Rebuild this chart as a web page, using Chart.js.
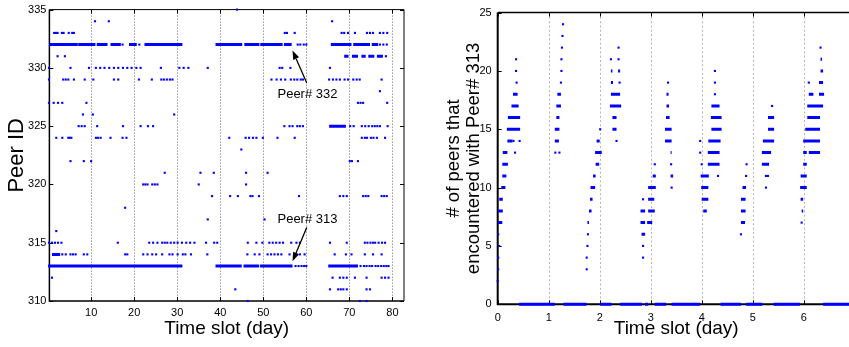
<!DOCTYPE html>
<html>
<head>
<meta charset="utf-8">
<script src="https://cdn.jsdelivr.net/npm/chart.js@4/dist/chart.umd.min.js"></script>
<style>
    html, body { margin: 0; padding: 0; background: #fff; overflow: hidden; }
    #wrap { position: relative; width: 849px; height: 347px; overflow: hidden; }
    #peerChart { position: absolute; left: 0; top: 0; }
    #encChart { position: absolute; left: 420px; top: 0; }
</style>
</head>
<body>
<div id="wrap">
    <canvas id="peerChart" width="420" height="347" style="width:420px;height:347px"></canvas>
    <canvas id="encChart" width="450" height="347" style="width:450px;height:347px"></canvas>
</div>
<script>
// LEFT: peer id seen in each time slot (day)
const peerIds = [335, 334, 333, 332, 331, 330, 329, 328, 327, 326, 325, 324, 323, 322, 321, 320, 319, 318, 317, 316, 315, 314, 313, 312, 311, 310]
const peerSlots = [
    [43.9],
    [10.9, 14.1, 66.0],
    [1.4, 1.8, 2.2, 3.2, 3.6, 4.8, 5.6, 6.0, 55.0, 55.5, 57.3, 68.2, 68.8, 69.7, 71.3, 74.1, 74.8, 75.5, 77.1, 77.9, 78.8],
    [17.3, 21.2, 58.0, 58.6, 59.4, 60.0, 77.1, 77.9, 78.7],
    [2.2, 3.9, 78.5],
    [0.2, 5.2, 9.5, 11.1, 12.1, 13.1, 14.2, 15.3, 16.3, 17.4, 18.4, 19.4, 20.5, 21.5, 26.2, 30.5, 31.5, 32.6, 37.1, 53.8, 54.4, 56.3, 65.5],
    [0.2, 3.5, 4.1, 4.7, 6.0, 8.5, 10.5, 15.3, 16.3, 21.1, 24.1, 26.3, 26.9, 27.6, 28.3, 28.9, 51.9, 53.1, 54.1, 55.1, 56.4, 57.2, 57.9, 58.7, 59.2, 65.3, 66.2, 67.0, 67.8, 68.9, 69.7, 70.9, 71.7, 72.4, 77.5],
    [77.1],
    [0.2, 1.3, 2.3, 3.3, 8.9, 72.0, 72.6, 73.2, 78.8],
    [8.1, 10.4, 29.3],
    [7.1, 7.8, 8.5, 11.4, 17.4, 21.5, 23.2, 24.4, 54.9, 56.1, 56.8, 57.9, 58.5, 59.2, 70.2, 71.0, 72.9, 73.7, 74.5, 75.3, 75.9, 76.5, 77.1, 78.9],
    [1.9, 3.3, 4.7, 5.0, 5.4, 11.1, 11.6, 12.2, 14.5, 17.3, 18.2, 42.1, 45.9, 46.7, 47.6, 48.4, 49.9, 53.3, 57.3, 72.9, 73.6, 74.1, 75.0, 75.6, 76.4, 78.3],
    [44.9],
    [5.2, 8.3, 10.0, 70.1, 70.6, 72.0],
    [27.1, 35.4, 38.5, 46.0, 51.0],
    [22.1, 22.6, 23.1, 24.2, 24.8, 25.4, 35.0, 46.0],
    [38.1, 42.3, 44.1, 47.0, 47.5, 49.0, 58.3, 67.8, 68.6, 69.4, 73.2, 73.8, 74.4, 77.5, 78.1, 78.7],
    [17.9],
    [37.1, 50.3],
    [1.9],
    [0.2, 0.9, 1.6, 2.3, 3.1, 16.2, 23.5, 24.4, 25.4, 26.5, 27.1, 27.7, 28.5, 29.3, 30.1, 31.1, 32.1, 33.0, 34.0, 36.7, 38.6, 39.3, 46.4, 48.4, 49.8, 51.4, 52.2, 53.0, 53.8, 54.6, 56.5, 57.7, 58.5, 65.5, 69.4, 73.6, 74.2, 74.9, 75.5, 76.0, 76.8, 77.6, 78.3],
    [3.3, 4.1, 5.2, 5.8, 6.4, 8.3, 9.1, 17.9, 18.4, 22.1, 23.1, 24.2, 25.1, 26.5, 28.2, 28.9, 30.1, 31.3, 31.9, 33.2, 37.0, 46.3, 48.0, 49.1, 51.0, 51.8, 52.6, 53.4, 54.2, 56.1, 57.7, 58.5, 59.6, 66.6, 69.2, 70.5, 73.6, 75.5, 77.5],
    [57.5, 58.2, 58.9, 59.5, 60.0, 72.6, 73.4, 74.0, 74.7, 75.3, 76.1, 76.7, 77.4, 78.0, 78.6, 79.1],
    [0.9, 66.1, 67.8, 68.6, 69.4, 71.3, 74.0, 77.5, 78.3, 79.1],
    [43.5, 65.5, 67.4, 68.0, 68.6, 69.4, 74.0, 74.8],
    [46.4, 72.5, 74.0]
]
// stretches of back to back slots: [peer id, from day, to day]
const peerRuns = [
    [332, 0.2, 6.9], [332, 7.0, 11.0], [332, 11.3, 13.8], [332, 14.5, 16.9], [332, 18.8, 20.6], [332, 22.4, 31.2],
    [332, 38.9, 45.1], [332, 45.6, 49.1], [332, 49.3, 54.5], [332, 54.8, 56.6],
    [332, 65.7, 70.5], [332, 70.9, 74.8], [332, 75.2, 76.7],
    [331, 68.8, 69.8], [331, 70.6, 72.0], [331, 72.8, 73.8], [331, 74.4, 75.8], [331, 76.4, 77.8],
    [325, 65.3, 69.2],
    [314, 0.9, 2.8],
    [313, 0.0, 31.2], [313, 38.9, 45.0], [313, 45.4, 49.0], [313, 49.2, 56.8], [313, 65.1, 72.0]
]
const peerXTicks = [10, 20, 30, 40, 50, 60, 70, 80]
const peerYTicks = [310, 315, 320, 325, 330, 335]

// RIGHT: number of peers met together with peer 313
// single samples: [day, count]
const encounterDots = [
    [0.00, 2], [0.01, 3], [0.01, 4], [0.03, 5], [0.01, 6], [0.34, 13], [0.31, 14], [0.43, 14], [0.37, 19], [0.36, 20], [0.36, 21],
    [1.13, 13], [1.21, 13], [1.24, 19], [1.25, 20], [1.25, 21], [1.26, 22], [1.27, 23], [1.28, 24],
    [1.745, 3], [1.745, 4], [1.76, 5], [1.77, 6], [2.01, 15],
    [2.33, 14], [2.39, 19], [2.22, 21], [2.37, 21], [2.37, 22],
    [2.85, 4], [2.85, 5], [2.85, 9], [3.41, 10], [3.08, 12], [3.40, 12], [3.34, 19],
    [4.32, 11], [4.00, 12], [3.97, 13], [3.97, 14], [4.26, 18], [4.26, 19], [4.26, 20],
    [4.77, 6], [4.87, 11], [4.88, 12], [5.26, 10], [5.26, 11], [5.30, 11], [5.38, 17],
    [5.96, 7], [6.10, 19], [6.33, 22]
]
// runs of samples at same count: [count, from day, to day]
const encounterRuns = [
    [0, 0.42, 1.12], [0, 1.29, 1.74], [0, 2.01, 2.23], [0, 2.40, 2.83], [0, 2.89, 2.95], [0, 3.08, 3.30],
    [0, 3.41, 3.97], [0, 4.37, 4.77], [0, 4.87, 5.19], [0, 5.41, 5.93], [0, 6.38, 7.0],
    [7, 0.01, 0.09], [8, 0.01, 0.10], [9, 0.03, 0.10], [10, 0.07, 0.15], [11, 0.09, 0.17], [12, 0.09, 0.20],
    [13, 0.10, 0.19], [14, 0.19, 0.29], [15, 0.18, 0.44], [16, 0.20, 0.44], [17, 0.27, 0.41], [18, 0.30, 0.39],
    [14, 1.12, 1.20], [15, 1.12, 1.21], [16, 1.15, 1.21], [17, 1.15, 1.24], [18, 1.17, 1.24],
    [7, 1.76, 1.79], [8, 1.79, 1.84], [9, 1.81, 1.86], [10, 1.82, 1.91], [11, 1.87, 1.92], [12, 1.92, 1.99], [13, 1.91, 2.04], [14, 1.94, 2.00],
    [15, 2.25, 2.33], [16, 2.25, 2.33], [17, 2.20, 2.42], [18, 2.22, 2.40], [19, 2.22, 2.26], [20, 2.22, 2.25], [20, 2.36, 2.40],
    [6, 2.82, 2.89], [7, 2.80, 2.89], [7, 2.93, 3.03], [8, 2.80, 2.89], [8, 2.95, 3.08], [9, 2.95, 3.07], [10, 2.95, 3.10],
    [11, 3.04, 3.10], [11, 3.39, 3.44], [13, 3.39, 3.41], [14, 3.28, 3.41], [15, 3.28, 3.41], [16, 3.30, 3.37], [17, 3.31, 3.36], [18, 3.31, 3.35],
    [8, 4.03, 4.10], [9, 4.00, 4.13], [10, 3.99, 4.13], [11, 3.98, 4.14], [12, 4.12, 4.35], [13, 4.12, 4.35], [14, 4.13, 4.37],
    [15, 4.19, 4.39], [16, 4.18, 4.39], [17, 4.19, 4.35],
    [7, 4.77, 4.85], [8, 4.77, 4.86], [9, 4.77, 4.86], [10, 4.80, 4.87], [12, 5.18, 5.32], [13, 5.18, 5.36], [14, 5.20, 5.42], [15, 5.30, 5.42], [16, 5.30, 5.42],
    [8, 5.96, 5.99], [9, 5.94, 5.99], [10, 5.93, 6.06], [11, 5.94, 6.06], [12, 5.99, 6.06], [13, 5.99, 6.06], [13, 6.10, 6.32],
    [14, 5.99, 6.32], [15, 6.03, 6.32], [16, 6.07, 6.32], [17, 6.07, 6.38], [18, 6.10, 6.19], [18, 6.30, 6.40], [19, 6.30, 6.38], [20, 6.33, 6.38], [21, 6.33, 6.36]
]
const encXTicks = [0, 1, 2, 3, 4, 5, 6]
const encYTicks = [0, 5, 10, 15, 20, 25]

// arrows on the left plot, in data units
const peerNotes = [
    { text: "Peer# 332", at: [53.3, 327.7], from: [60.1, 328.7], to: [56.8, 331.5] },
    { text: "Peer# 313", at: [53.3, 317.0], from: [60.1, 316.3], to: [56.8, 313.4] }
]

const BLUE = "#0000ff"
const FONT = "'Liberation Sans', Arial, Helvetica, sans-serif"

Chart.defaults.color = "#000"
Chart.defaults.font.family = FONT

function runsToPoints(runs) {
    let pts = []
    runs.forEach(r => {
        pts.push({ x: r[1], y: r[0] }, { x: r[2], y: r[0] }, { x: r[2], y: null })
    })
    return pts
}

// dotted grid, inward ticks and the axes box (matlab look)
const framePlugin = {
    id: "frame",
    beforeDatasetsDraw(chart, args, o) {
        const { ctx, chartArea: a, scales: { x, y } } = chart
        ctx.save()
        ctx.strokeStyle = o.gridColor
        ctx.lineWidth = 1
        ctx.setLineDash(o.gridDash)
        x.ticks.forEach(t => {
            let px = Math.round(x.getPixelForValue(t.value)) + 0.5
            if (px <= a.left + 2 || px >= a.right - 2) return
            ctx.beginPath()
            ctx.moveTo(px, a.top)
            ctx.lineTo(px, a.bottom)
            ctx.stroke()
        })
        ctx.setLineDash([])
        ctx.strokeStyle = "#000"
        x.ticks.forEach(t => {
            let px = Math.round(x.getPixelForValue(t.value)) + 0.5
            ctx.beginPath()
            ctx.moveTo(px, a.bottom); ctx.lineTo(px, a.bottom - 4)
            ctx.moveTo(px, a.top); ctx.lineTo(px, a.top + 4)
            ctx.stroke()
        })
        y.ticks.forEach(t => {
            let py = Math.round(y.getPixelForValue(t.value)) + 0.5
            ctx.beginPath()
            ctx.moveTo(a.left, py); ctx.lineTo(a.left + 4, py)
            ctx.moveTo(a.right, py); ctx.lineTo(a.right - 4, py)
            ctx.stroke()
        })
        ctx.lineWidth = o.boxWidth
        ctx.beginPath()
        ctx.moveTo(a.left, a.top); ctx.lineTo(a.right, a.top); ctx.lineTo(a.right, a.bottom)
        ctx.stroke()
        ctx.lineWidth = o.axisWidth
        ctx.beginPath()
        ctx.moveTo(a.left, a.top); ctx.lineTo(a.left, a.bottom); ctx.lineTo(a.right, a.bottom)
        ctx.stroke()
        ctx.restore()
    }
}

const notePlugin = {
    id: "notes",
    afterDatasetsDraw(chart, args, o) {
        if (!o.list) return
        const { ctx, scales: { x, y } } = chart
        ctx.save()
        ctx.fillStyle = "#000"
        ctx.strokeStyle = "#000"
        ctx.lineWidth = 1.3
        ctx.font = "13px " + FONT
        ctx.textBaseline = "middle"
        o.list.forEach(n => {
            ctx.fillText(n.text, x.getPixelForValue(n.at[0]), y.getPixelForValue(n.at[1]))
            let x0 = x.getPixelForValue(n.from[0]), y0 = y.getPixelForValue(n.from[1])
            let x1 = x.getPixelForValue(n.to[0]), y1 = y.getPixelForValue(n.to[1])
            let ang = Math.atan2(y1 - y0, x1 - x0)
            let hx = x1 - 9 * Math.cos(ang), hy = y1 - 9 * Math.sin(ang)
            ctx.beginPath()
            ctx.moveTo(x0, y0); ctx.lineTo(hx, hy)
            ctx.stroke()
            ctx.beginPath()
            ctx.moveTo(x1, y1)
            ctx.lineTo(hx + 3.2 * Math.sin(ang), hy - 3.2 * Math.cos(ang))
            ctx.lineTo(hx - 3.2 * Math.sin(ang), hy + 3.2 * Math.cos(ang))
            ctx.closePath()
            ctx.fill()
        })
        ctx.restore()
    }
}

function makeChart(id, cfg) {
    return new Chart(document.getElementById(id), {
        type: "scatter",
        data: {
            datasets: [{
                data: runsToPoints(cfg.runs),
                showLine: true,
                spanGaps: false,
                borderColor: BLUE,
                borderWidth: 3,
                borderCapStyle: "butt",
                pointRadius: 0,
                clip: false
            }, {
                data: cfg.dots,
                pointStyle: "rect",
                pointRadius: 1.5,
                backgroundColor: BLUE,
                borderWidth: 0,
                clip: false
            }]
        },
        options: {
            responsive: false,
            animation: false,
            events: [],
            layout: { padding: cfg.padding },
            plugins: {
                legend: { display: false },
                tooltip: { enabled: false },
                frame: cfg.frame,
                notes: { list: cfg.notes }
            },
            scales: {
                x: {
                    type: "linear",
                    min: cfg.xMin,
                    max: cfg.xMax,
                    grid: { display: false, drawTicks: false },
                    border: { display: false },
                    ticks: { font: { size: 11 }, padding: cfg.xPad, maxRotation: 0, autoSkip: false },
                    afterBuildTicks: s => { s.ticks = cfg.xTicks.map(v => ({ value: v })) },
                    afterFit: s => { s.height = cfg.xHeight },
                    title: { display: true, text: "Time slot (day)", font: { size: 19 }, padding: { top: 0, bottom: 7 } }
                },
                y: {
                    min: cfg.yMin,
                    max: cfg.yMax,
                    grid: { display: false, drawTicks: false },
                    border: { display: false },
                    ticks: { font: { size: 11 }, padding: cfg.yPad },
                    afterBuildTicks: s => { s.ticks = cfg.yTicks.map(v => ({ value: v })) },
                    afterFit: s => { s.width = cfg.yWidth },
                    title: cfg.yTitle
                }
            }
        },
        plugins: [framePlugin, notePlugin]
    })
}

let peerDotPts = []
peerIds.forEach((id, i) => peerSlots[i].forEach(t => peerDotPts.push({ x: t, y: id })))

makeChart("peerChart", {
    runs: peerRuns,
    dots: peerDotPts,
    notes: peerNotes,
    padding: { left: 0, right: 16, top: 9, bottom: 0 },
    xMin: 0.3, xMax: 82.7, xTicks: peerXTicks, xPad: 5, xHeight: 46,
    yMin: 310, yMax: 335, yTicks: peerYTicks, yPad: 3, yWidth: 49.4,
    yTitle: { display: true, text: "Peer ID", font: { size: 22 }, padding: { top: 4, bottom: 0 } },
    frame: { gridColor: "#666", gridDash: [1, 2], boxWidth: 1, axisWidth: 1.5 }
})

makeChart("encChart", {
    runs: encounterRuns,
    dots: encounterDots.map(d => ({ x: d[0], y: d[1] })),
    notes: null,
    padding: { left: 0, right: 15.3, top: 8, bottom: 0 },
    xMin: 0, xMax: 7, xTicks: encXTicks, xPad: 7, xHeight: 42.7,
    yMin: 0, yMax: 25, yTicks: encYTicks, yPad: 6, yWidth: 77.7,
    yTitle: {
        display: true,
        text: ["# of peers that", "encountered with Peer# 313"],
        font: { size: 18.5, lineHeight: 1.08 },
        padding: { top: 24, bottom: 0 }
    },
    frame: { gridColor: "#b4b4b4", gridDash: [2, 2.3], boxWidth: 1.5, axisWidth: 2 }
})
</script>
</body>
</html>
